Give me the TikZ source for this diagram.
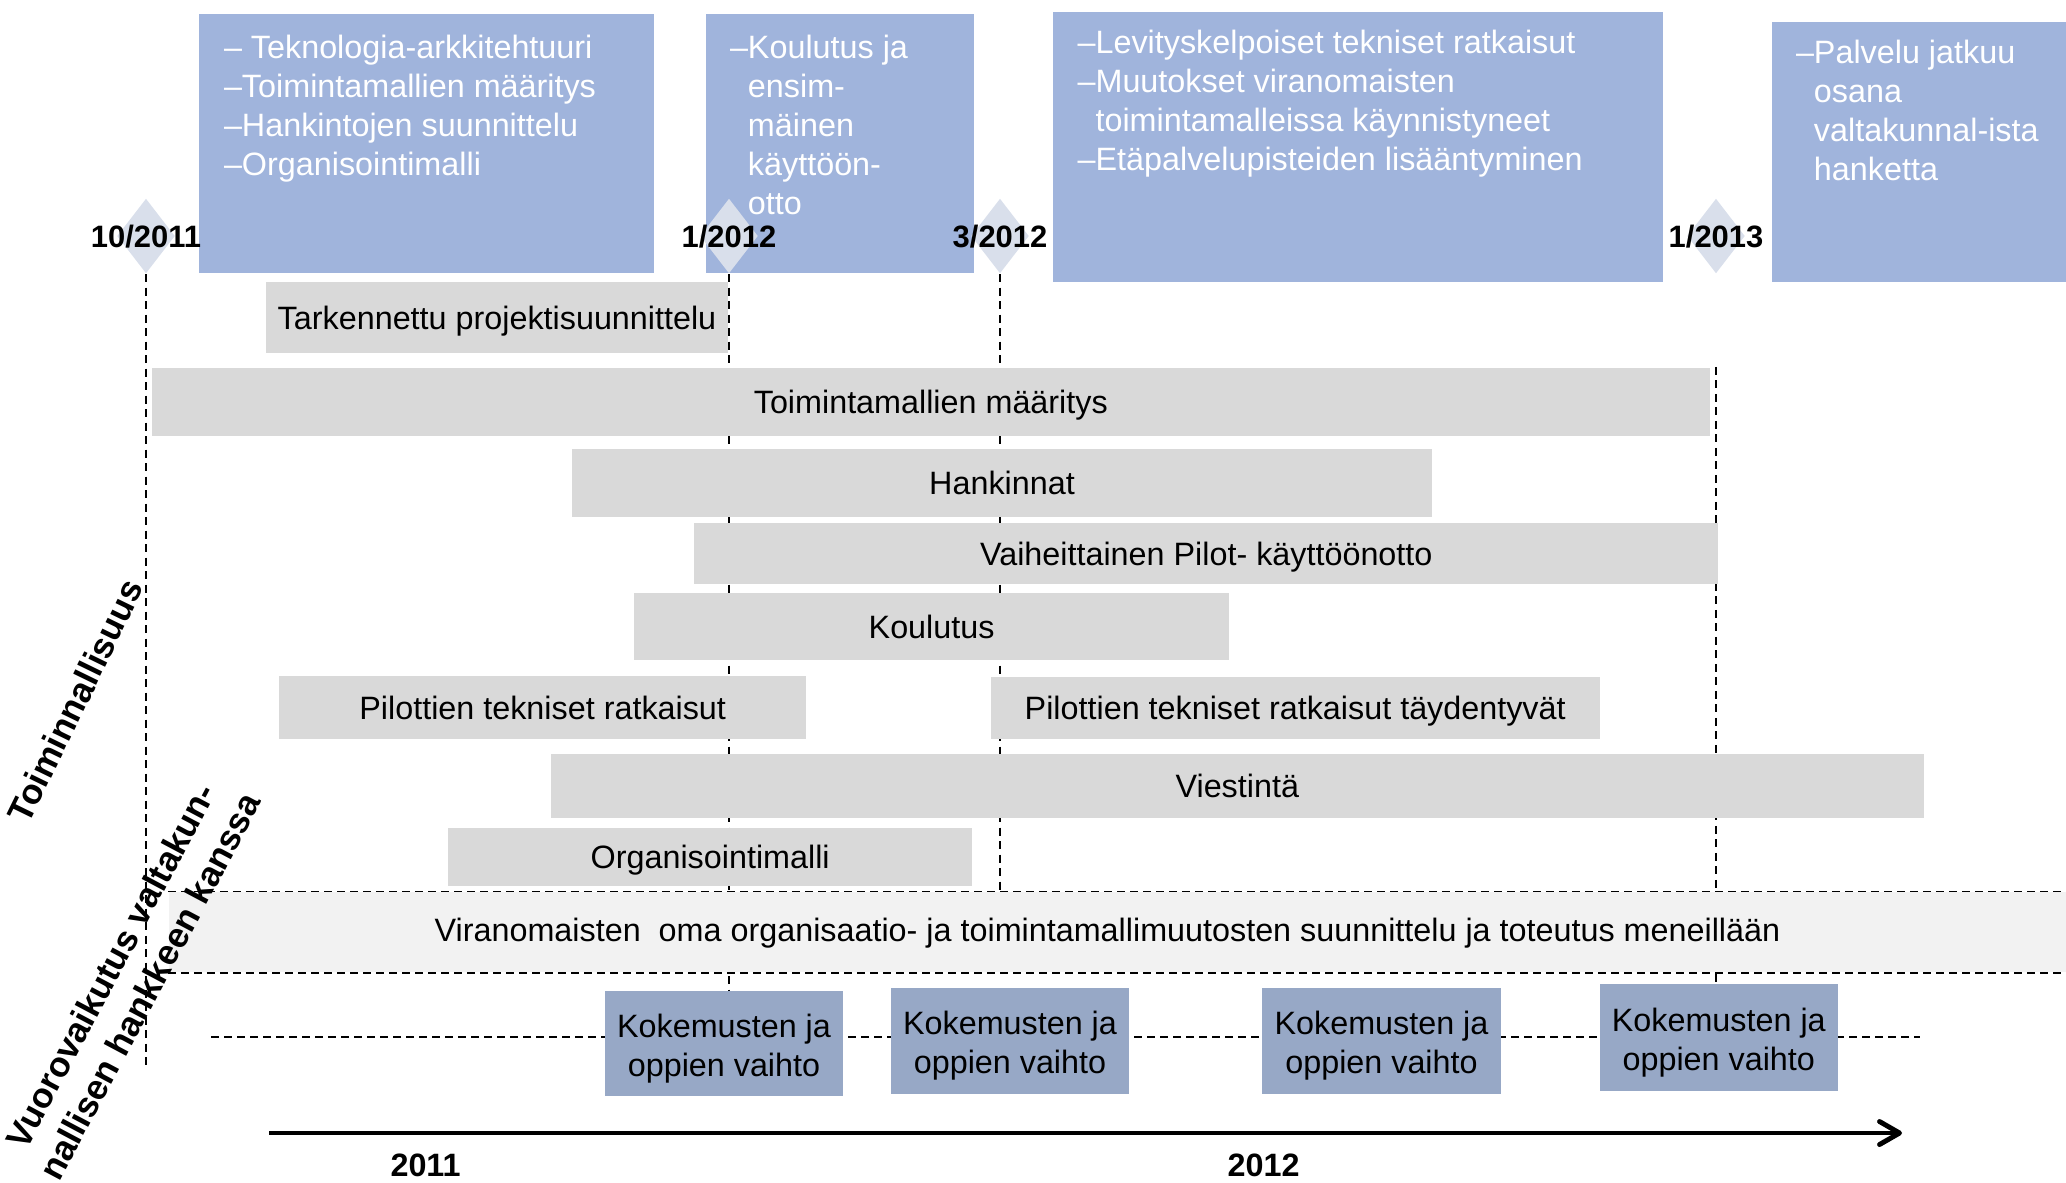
\documentclass[tikz,border=0pt]{standalone}
\usepackage{fontspec}
\setmainfont{Liberation Sans}
\usepackage{xcolor}
\usepackage{tikz}
\usetikzlibrary{arrows.meta, positioning, shapes.geometric, backgrounds}

\definecolor{topblue}{HTML}{A0B4DC}
\definecolor{kokblue}{HTML}{97A8C6}
\definecolor{msfill}{HTML}{D9DFEB}
\definecolor{bargray}{HTML}{D9D9D9}
\definecolor{bandgray}{HTML}{F2F2F2}

\newcommand{\bodysize}{\fontsize{9.2pt}{11.1pt}\selectfont}
\newcommand{\datesize}{\fontsize{8.8pt}{10.5pt}\selectfont\bfseries}
\newcommand{\sidesize}{\fontsize{10pt}{12.5pt}\selectfont\bfseries}
\newcommand{\kokstrut}{\rule{0pt}{0.33cm}}

\begin{document}
\begin{tikzpicture}[
  topbox/.style={rectangle, fill=topblue, inner sep=0pt},
  boxtxt/.style={anchor=north west, inner sep=0pt, align=left, text=white, font=\bodysize},
  milestone/.style={diamond, fill=msfill, inner sep=0pt, minimum width=0.58cm, minimum height=0.75cm},
  datelbl/.style={anchor=base, inner sep=0pt, font=\datesize},
  bar/.style={rectangle, fill=bargray, inner sep=0pt, font=\bodysize, text height=0.232cm, text depth=0pt},
  band/.style={rectangle, fill=bandgray, inner sep=0pt},
  expbox/.style={rectangle, fill=kokblue, inner sep=0pt, align=center, font=\bodysize, minimum width=2.385cm, minimum height=1.054cm},
  vline/.style={dash pattern=on 0.08cm off 0.055cm, line width=0.45pt},
  hline/.style={dash pattern=on 0.08cm off 0.05cm, line width=0.45pt},
  timearrow/.style={-{Straight Barb[length=2mm, width=2.3mm, round]}, line width=1.4pt},
  yearlbl/.style={anchor=base, inner sep=0pt, font=\bodysize\bfseries},
  sidelbl/.style={inner sep=0pt, align=center, font=\sidesize}
]
  \useasboundingbox (0,0) rectangle (20.66,-11.82);

  \node[topbox, minimum width=4.55cm, minimum height=2.59cm] (tb1) at (4.265,-1.435) {};
  \node[topbox, minimum width=2.68cm, minimum height=2.59cm] (tb2) at (8.40,-1.435) {};
  \node[topbox, minimum width=6.10cm, minimum height=2.70cm] (tb3) at (13.58,-1.47) {};
  \node[topbox, minimum width=2.94cm, minimum height=2.60cm] (tb4) at (19.19,-1.52) {};

  \node[milestone] (d1) at (1.46,-2.36) {};
  \node[milestone] (d2) at (7.29,-2.36) {};
  \node[milestone] (d3) at (10.00,-2.36) {};
  \node[milestone] (d4) at (17.16,-2.36) {};

  \node[boxtxt] (tx1) at ([xshift=0.25cm, yshift=-0.208cm]tb1.north west)
    {– Teknologia-arkkitehtuuri\\–Toimintamallien määritys\\–Hankintojen suunnittelu\\–Organisointimalli};
  \node[boxtxt] (tx2) at ([xshift=0.24cm, yshift=-0.208cm]tb2.north west)
    {–Koulutus ja\\\phantom{–}ensim-\\\phantom{–}mäinen\\\phantom{–}käyttöön-\\\phantom{–}otto};
  \node[boxtxt] (tx3) at ([xshift=0.246cm, yshift=-0.178cm]tb3.north west)
    {–Levityskelpoiset tekniset ratkaisut\\–Muutokset viranomaisten\\\phantom{–}toimintamalleissa käynnistyneet\\–Etäpalvelupisteiden lisääntyminen};
  \node[boxtxt] (tx4) at ([xshift=0.24cm, yshift=-0.178cm]tb4.north west)
    {–Palvelu jatkuu\\\phantom{–}osana\\\phantom{–}valtakunnal-ista\\\phantom{–}hanketta};

  \node[bar, minimum width=4.62cm, minimum height=0.71cm] (tark) at (4.97,-3.175) {Tarkennettu projektisuunnittelu};
  \node[bar, minimum width=15.585cm, minimum height=0.68cm] (toim) at (9.308,-4.015) {Toimintamallien määritys};
  \node[bar, minimum width=8.604cm, minimum height=0.672cm] (hank) at (10.02,-4.829) {Hankinnat};
  \node[bar, minimum width=10.237cm, minimum height=0.606cm] (vaih) at (12.063,-5.534) {Vaiheittainen Pilot- käyttöönotto};
  \node[bar, minimum width=5.955cm, minimum height=0.672cm] (koul) at (9.316,-6.265) {Koulutus};
  \node[bar, minimum width=5.268cm, minimum height=0.63cm] (pil1) at (5.427,-7.075) {Pilottien tekniset ratkaisut};
  \node[bar, minimum width=6.088cm, minimum height=0.62cm] (pil2) at (12.952,-7.082) {Pilottien tekniset ratkaisut täydentyvät};
  \node[bar, minimum width=13.729cm, minimum height=0.64cm] (vies) at (12.373,-7.86) {Viestintä};
  \node[bar, minimum width=5.244cm, minimum height=0.58cm] (orga) at (7.102,-8.57) {Organisointimalli};

  \node[band, minimum width=18.973cm, minimum height=0.804cm] (band) at (11.1735,-9.322) {};
  \draw[hline] (band.north west) -- (band.north east);
  \draw[hline] (band.south west) -- (band.south east);
  \node[font=\bodysize, inner sep=0pt] (bandtxt) at (11.075,-9.33)
    {Viranomaisten\ \ oma organisaatio- ja toimintamallimuutosten suunnittelu ja toteutus meneillään};

  \coordinate (hs) at (2.11,-10.37);
  \coordinate (he) at (19.20,-10.37);
  \draw[hline] (hs) -- (he);
  \node[expbox] (kok1) at (7.24,-10.435) {\kokstrut Kokemusten ja\\oppien vaihto};
  \node[expbox] (kok2) at (10.10,-10.409) {\kokstrut Kokemusten ja\\oppien vaihto};
  \node[expbox] (kok3) at (13.815,-10.409) {\kokstrut Kokemusten ja\\oppien vaihto};
  \node[expbox, minimum height=1.068cm] (kok4) at (17.188,-10.376) {\kokstrut Kokemusten ja\\oppien vaihto};

  \begin{scope}[on background layer]
    \coordinate (l1end) at (1.46,-10.70);
    \draw[vline] (d1.south) -- (l1end);
    \draw[vline] (d2.south) -- (d2 |- kok1.north);
    \draw[vline] (d3.south) -- (d3 |- band.north);
    \draw[vline] (d4 |- toim.north) -- (d4 |- kok4.north);
  \end{scope}

  \coordinate (ts) at (2.69,-11.33);
  \coordinate (te) at (19.02,-11.33);
  \draw[timearrow] (ts) -- (te);
  \node[yearlbl] (y1) at (4.256,-11.76) {2011};
  \node[yearlbl] (y2) at (12.636,-11.76) {2012};

  \node[datelbl] (dl1) at ([yshift=-1.15mm]d1.center) {10/2011};
  \node[datelbl] (dl2) at ([yshift=-1.15mm]d2.center) {1/2012};
  \node[datelbl] (dl3) at ([yshift=-1.15mm]d3.center) {3/2012};
  \node[datelbl] (dl4) at ([yshift=-1.15mm]d4.center) {1/2013};

  \node[sidelbl, rotate=64] (side1) at (0.75,-7.01) {Toiminnallisuus};
  \node[sidelbl, rotate=62] (side2) at (1.30,-9.76) {Vuorovaikutus valtakun-\\nallisen hankkeen kanssa};
\end{tikzpicture}
\end{document}
